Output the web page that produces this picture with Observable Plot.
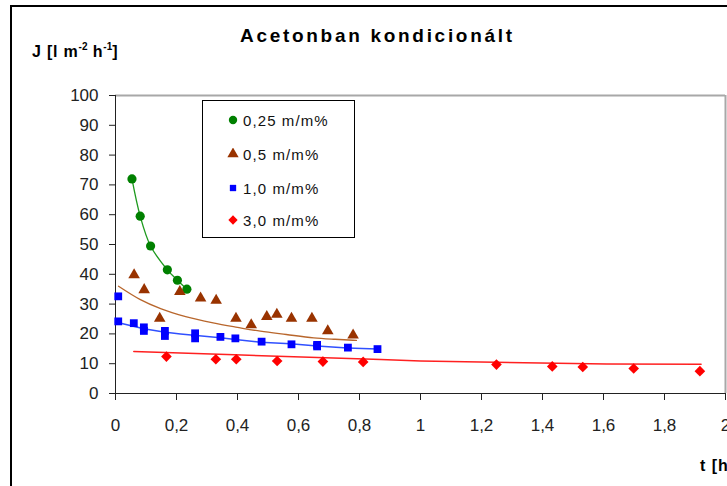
<!DOCTYPE html>
<html><head><meta charset="utf-8">
<script src="https://cdn.jsdelivr.net/npm/d3@7"></script>
<script src="https://cdn.jsdelivr.net/npm/@observablehq/plot@0.6"></script>
<style>
html,body{margin:0;padding:0;background:#fff;overflow:hidden;}
#wrap{position:relative;width:727px;height:486px;overflow:hidden;font-family:"Liberation Sans",Arial,sans-serif;background:#fff;}
#border{position:absolute;left:10px;top:5px;width:900px;height:700px;border-left:2px solid #000;border-top:2px solid #000;box-sizing:border-box;}
#chart{position:absolute;left:0;top:0;}
#title{position:absolute;left:240px;top:25px;font-size:19px;font-weight:bold;letter-spacing:2.7px;color:#000;white-space:nowrap;}
#ylab{position:absolute;left:32px;top:41px;font-size:16px;font-weight:bold;color:#000;white-space:nowrap;letter-spacing:0.8px;}
#ylab sup{font-size:10px;vertical-align:7px;letter-spacing:0;}
#xlab{position:absolute;left:700px;top:457px;font-size:16px;font-weight:bold;color:#000;white-space:nowrap;letter-spacing:1px;}
#legend{position:absolute;left:202px;top:100px;width:153px;height:138px;border:1px solid #000;box-sizing:border-box;background:#fff;}
.row{position:absolute;left:24px;height:20px;display:flex;align-items:center;font-size:15px;letter-spacing:1.1px;color:#111;white-space:nowrap;}
.row svg{margin-right:4px;}
</style>
</head><body>
<div id="wrap">
  <div id="border"></div>
  <div id="chart"></div>
  <div id="title"></div>
  <div id="ylab">J [l m<sup>-2</sup> h<sup>-1</sup>]</div>
  <div id="xlab">t [h]</div>
  <div id="legend"></div>
</div>
<script>
// ---- data ----
const titleText = "Acetonban kondicionált";
const seriesNames = ["0,25 m/m%", "0,5 m/m%", "1,0 m/m%", "3,0 m/m%"];
const seriesColors = ["#008000", "#993300", "#0000ff", "#ff0000"];
const lineColors = ["#1e9a1e", "#b8662c", "#3050ff", "#ff2020"];
const seriesSymbols = ["circle", "triangle", "square", "diamond2"];
const xTicks = [0, 0.2, 0.4, 0.6, 0.8, 1, 1.2, 1.4, 1.6, 1.8, 2];
const yTicks = [0, 10, 20, 30, 40, 50, 60, 70, 80, 90, 100];

const greenX = [0.054, 0.081, 0.115, 0.17, 0.203, 0.234];
const greenY = [72, 59.5, 49.5, 41.5, 38, 35];

const brownX = [0.061, 0.094, 0.145, 0.211, 0.279, 0.33, 0.395, 0.445, 0.496, 0.529, 0.577, 0.644, 0.696, 0.779];
const brownY = [39.8, 34.8, 25.2, 34.2, 32, 31.2, 25.2, 23, 25.8, 26.5, 25.2, 25.2, 21, 19.6];
const brownTrendX = [0.01, 0.08, 0.15, 0.23, 0.32, 0.4, 0.475, 0.56, 0.65, 0.72, 0.79];
const brownTrendY = [36, 31.6, 28.4, 25.8, 23.7, 22.2, 20.9, 19.8, 18.7, 18.2, 17.8];

const blueX = [0.009, 0.009, 0.06, 0.093, 0.093, 0.162, 0.162, 0.261, 0.261, 0.344, 0.393, 0.479, 0.577, 0.661, 0.661, 0.762, 0.859];
const blueY = [32.6, 24.2, 23.6, 22.2, 21.0, 21.0, 19.3, 20.2, 18.5, 19.0, 18.5, 17.4, 16.5, 16.3, 15.8, 15.4, 14.9];
const blueTrendX = [0, 0.093, 0.158, 0.213, 0.344, 0.393, 0.475, 0.574, 0.661, 0.76, 0.858];
const blueTrendY = [24.0, 21.7, 20.6, 20.0, 18.7, 18.1, 17.2, 16.7, 15.9, 15.3, 14.9];

const redX = [0.167, 0.329, 0.396, 0.53, 0.68, 0.812, 1.249, 1.432, 1.532, 1.699, 1.916];
const redY = [12.4, 11.5, 11.5, 10.9, 10.7, 10.6, 9.7, 9.1, 8.9, 8.4, 7.5];
const redTrendX = [0.06, 0.39, 0.87, 1.0, 1.34, 1.61, 1.92];
const redTrendY = [14.1, 13.0, 11.4, 10.9, 10.3, 9.9, 9.8];

// ---- build tables ----
const zip = (xs, ys) => xs.map((x, i) => ({x, y: ys[i]}));
const green = zip(greenX, greenY);
const brown = zip(brownX, brownY);
const brownTrend = zip(brownTrendX, brownTrendY);
const blue = zip(blueX, blueY);
const blueTrend = zip(blueTrendX, blueTrendY);
const red = zip(redX, redY);
const redTrend = zip(redTrendX, redTrendY);

const fmt = d => String(d).replace(".", ",");
const font = '"Liberation Sans", Arial, sans-serif';

const chart = Plot.plot({
  width: 727,
  height: 486,
  marginLeft: 115,
  marginRight: 2,
  marginTop: 95,
  marginBottom: 93,
  style: {fontFamily: font, fontSize: "17px", color: "#222", background: "transparent", overflow: "visible"},
  x: {domain: [0, 2]},
  y: {domain: [0, 100]},
  marks: [
    Plot.ruleY([100], {stroke: "#a8a8a8", strokeWidth: 2}),
    Plot.ruleX([2], {stroke: "#a8a8a8", strokeWidth: 2}),
    Plot.axisX({ticks: xTicks, tickFormat: fmt, tickSize: 7, tickPadding: 18, label: null, stroke: "#222", fill: "#222"}),
    Plot.axisY({ticks: yTicks, tickSize: 6, tickPadding: 11, label: null, stroke: "#222", fill: "#222"}),
    Plot.ruleX([0], {stroke: "#222"}),
    Plot.ruleY([0], {stroke: "#222"}),
    Plot.line(brownTrend, {x: "x", y: "y", stroke: lineColors[1], strokeWidth: 1.3, curve: "monotone-x"}),
    Plot.line(blueTrend, {x: "x", y: "y", stroke: lineColors[2], strokeWidth: 1.5, curve: "linear"}),
    Plot.line(redTrend, {x: "x", y: "y", stroke: lineColors[3], strokeWidth: 1.5, curve: "linear"}),
    Plot.line(green, {x: "x", y: "y", stroke: lineColors[0], strokeWidth: 1.3, curve: "catmull-rom"}),
    Plot.dot(green, {x: "x", y: "y", symbol: seriesSymbols[0], fill: seriesColors[0], r: 4.6}),
    Plot.dot(brown, {x: "x", y: "y", symbol: seriesSymbols[1], fill: seriesColors[1], r: 4.3}),
    Plot.dot(blue, {x: "x", y: "y", symbol: seriesSymbols[2], fill: seriesColors[2], r: 4.4}),
    Plot.dot(red, {x: "x", y: "y", symbol: seriesSymbols[3], fill: seriesColors[3], r: 4.8})
  ]
});
document.getElementById("chart").appendChild(chart);
document.getElementById("title").textContent = titleText;

// legend
const symMap = {circle: d3.symbolCircle, triangle: d3.symbolTriangle, square: d3.symbolSquare, diamond2: d3.symbolDiamond2};
const legend = document.getElementById("legend");
const rowTops = [9, 43, 77, 109];
seriesNames.forEach((name, i) => {
  const row = document.createElement("div");
  row.className = "row";
  row.style.top = rowTops[i] + "px";
  const size = seriesSymbols[i] === "square" ? 40 : 55;
  const path = d3.symbol(symMap[seriesSymbols[i]], size)();
  row.innerHTML = `<svg width="12" height="12" viewBox="-6 -6 12 12"><path d="${path}" fill="${seriesColors[i]}"/></svg><span>${name}</span>`;
  legend.appendChild(row);
});
</script>
</body></html>
